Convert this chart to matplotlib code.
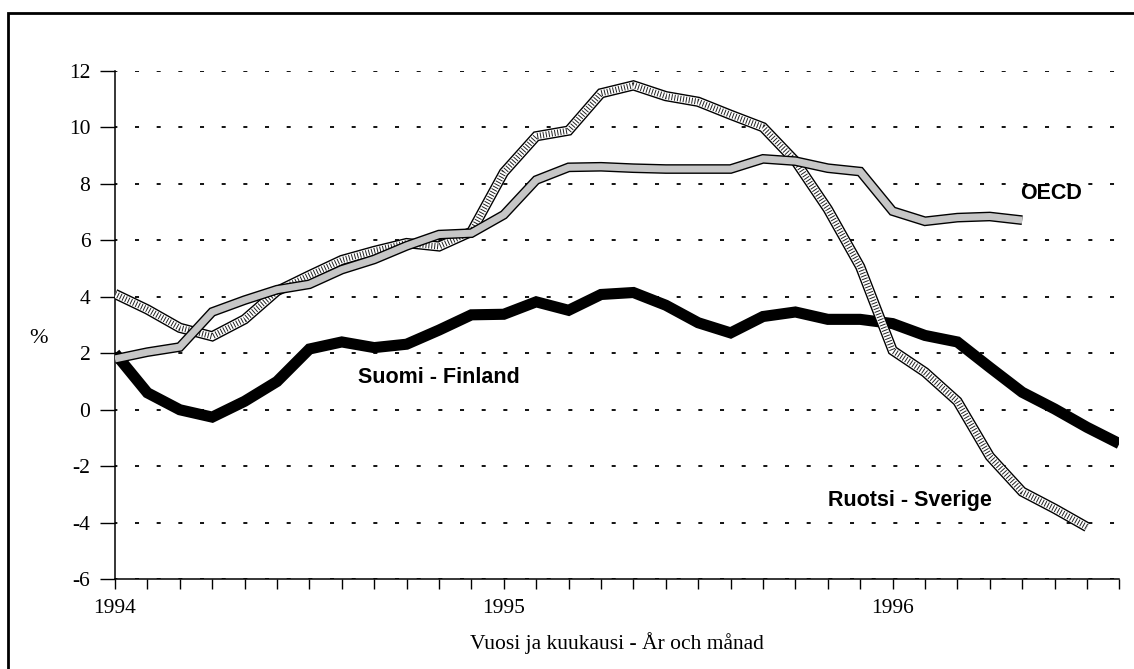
import numpy as np
import matplotlib
matplotlib.use("Agg")
import matplotlib.pyplot as plt
from matplotlib.patches import Rectangle

plt.rcParams['lines.scale_dashes'] = False

# monthly data, Jan 1994 -> Aug 1996
months = np.arange(32)
year_labels = {0: '1994', 12: '1995', 24: '1996'}

finland = [2.0, 0.6, 0.0, -0.26, 0.3, 1.0, 2.15, 2.4, 2.2, 2.32, 2.82, 3.36,
           3.38, 3.82, 3.52, 4.08, 4.15, 3.7, 3.08, 2.72, 3.3, 3.46, 3.2, 3.2,
           3.05, 2.63, 2.4, 1.5, 0.62, 0.03, -0.62, -1.2]
sweden = [4.1, 3.55, 2.9, 2.6, 3.2, 4.2, 4.76, 5.3, 5.62, 5.9, 5.78, 6.3,
          8.4, 9.68, 9.88, 11.2, 11.48, 11.1, 10.9, 10.44, 10.0, 8.8, 7.1,
          5.06, 2.1, 1.33, 0.3, -1.65, -2.9, -3.5, -4.15]
oecd = [1.8, 2.04, 2.22, 3.46, 3.88, 4.25, 4.44, 4.96, 5.32, 5.8, 6.2, 6.25,
        6.9, 8.13, 8.58, 8.6, 8.55, 8.52, 8.52, 8.52, 8.88, 8.8, 8.55, 8.43,
        7.03, 6.67, 6.8, 6.84, 6.71]

serif = 'Liberation Serif'
sans = 'Liberation Sans'

fig = plt.figure(figsize=(11.34, 6.69), dpi=100)
ax = fig.add_axes([115 / 1134, 1 - 579.3 / 669, (1119.4 - 115) / 1134, (579.3 - 70.7) / 669])

# outer frame of the scanned page
fig.add_artist(Rectangle((8 / 1134, -0.02), 1.05, 1.02 - 13 / 669, transform=fig.transFigure,
                         fill=False, ec='black', lw=2.0))

kw = dict(solid_capstyle='butt', solid_joinstyle='miter')

# Finland: thick black line
ax.plot(months[:len(finland)], finland, color='black', lw=8.0, zorder=3, **kw)

# Sweden: outlined band with hatching
xs = months[:len(sweden)]
ax.plot(xs, sweden, color='black', lw=7.4, zorder=4, **kw)
ax.plot(xs, sweden, color='white', lw=5.4, zorder=4, **kw)
ax.plot(xs, sweden, color='#222222', lw=4.4, zorder=4, linestyle=(0, (0.7, 1.4)),
        dash_capstyle='butt', dash_joinstyle='miter')

# OECD: outlined stippled band
xo = months[:len(oecd)]
ax.plot(xo, oecd, color='black', lw=7.0, zorder=5, **kw)
ax.plot(xo, oecd, color='#c6c6c6', lw=5.0, zorder=5, **kw)

ax.set_xlim(0, 31)
ax.set_ylim(-6, 12)
ax.set_yticks(np.arange(-6, 13, 2))
ax.set_yticklabels([str(v) for v in range(-6, 13, 2)], fontfamily=serif, fontsize=15.5)
ax.set_xticks(months)
ax.set_xticklabels([year_labels.get(m, '') for m in months], fontfamily=serif, fontsize=15.5)
ax.tick_params(axis='y', direction='out', length=10.8, width=1.0, pad=7)
ax.tick_params(axis='x', direction='out', length=7.2, width=1.0, pad=7)

ax.grid(axis='y', color='black', lw=1.3, linestyle=(1.2, (2.9, 12.7)))
ax.set_axisbelow(True)
for s in ['top', 'right']:
    ax.spines[s].set_visible(False)
for s in ['left', 'bottom']:
    ax.spines[s].set_linewidth(1.1)

ax.set_xlabel('Vuosi ja kuukausi - År och månad', fontfamily=serif, fontsize=15.5, labelpad=10)
fig.text(39 / 1134, 1 - 338 / 669, '%', fontfamily=serif, fontsize=16, ha='center', va='center')

ax.text(7.5, 1.15, 'Suomi - Finland', fontfamily=sans, fontweight='bold', fontsize=15.5,
        va='center', ha='left')
ax.text(27.93, 7.67, 'OECD', fontfamily=sans, fontweight='bold', fontsize=15.5,
        va='center', ha='left')
ax.text(22.0, -3.2, 'Ruotsi - Sverige', fontfamily=sans, fontweight='bold', fontsize=15.5,
        va='center', ha='left')

fig.savefig('out.png', dpi=100)
